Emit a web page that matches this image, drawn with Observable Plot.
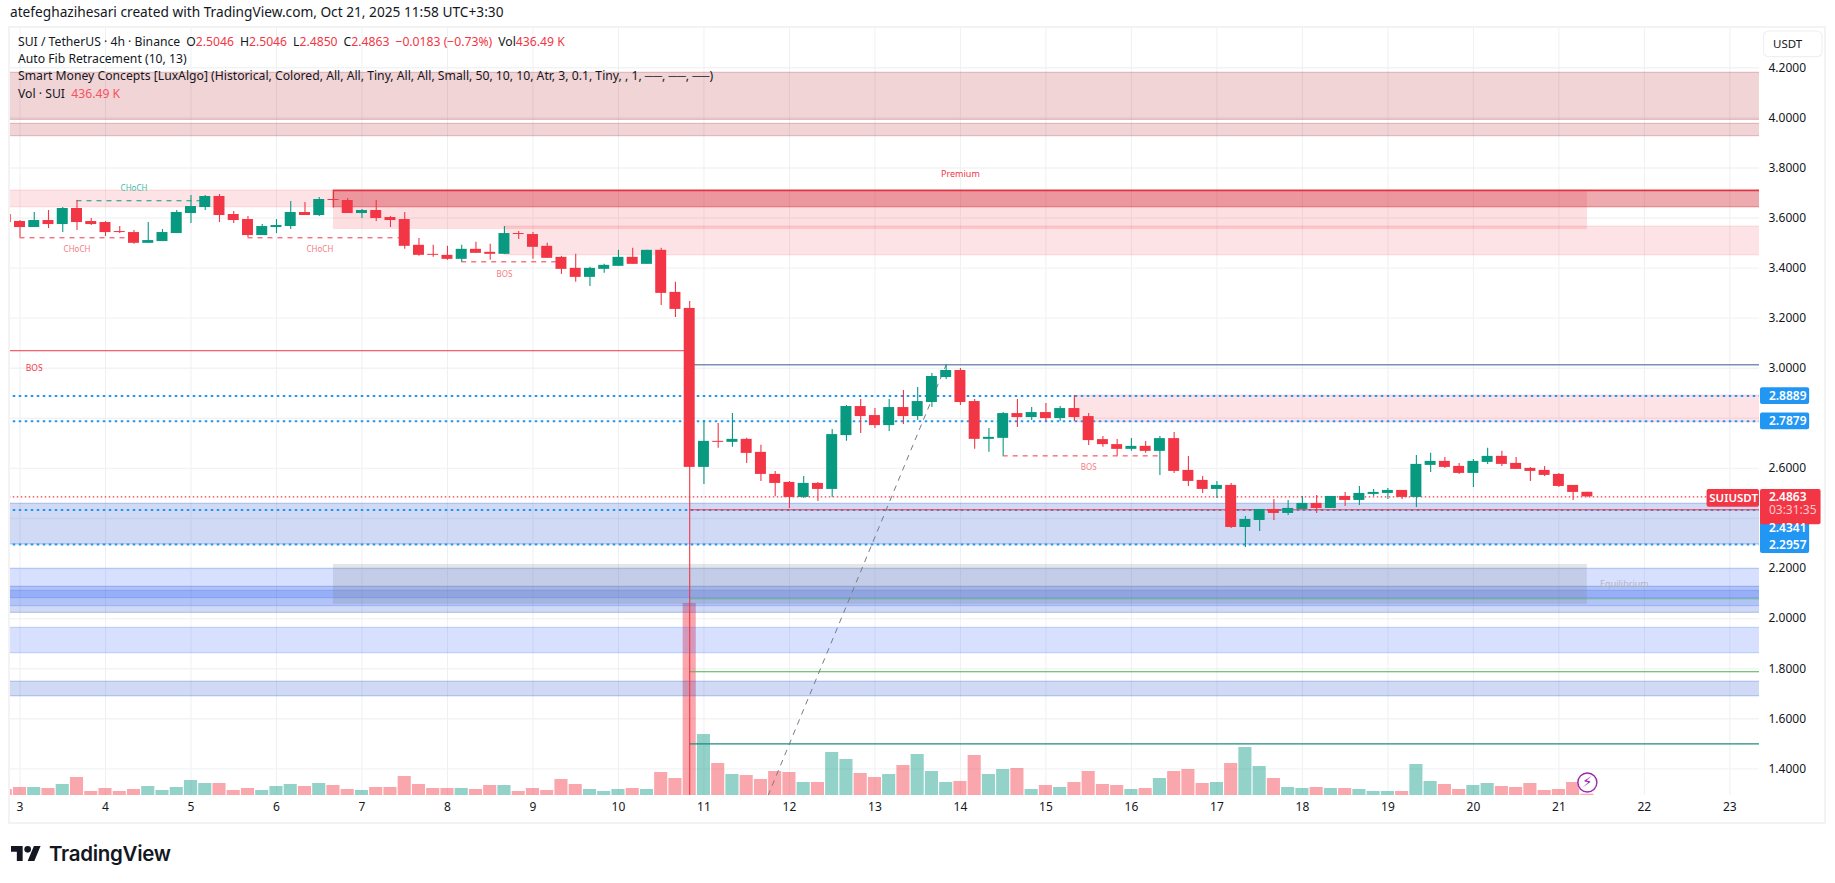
<!DOCTYPE html>
<html><head><meta charset="utf-8">
<script src="https://cdn.jsdelivr.net/npm/d3@7"></script>
<script src="https://cdn.jsdelivr.net/npm/@observablehq/plot@0.6"></script>
<style>
html,body{margin:0;padding:0;background:#fff}
#page{position:relative;width:1835px;height:883px;overflow:hidden;font-family:"Noto Sans",sans-serif;color:#131722}
#head{height:26px;line-height:23px;padding-left:10px;font-size:13.7px;box-sizing:border-box;white-space:nowrap}
#frame{position:absolute;left:8px;top:26px;width:1818px;height:798px;box-sizing:border-box;border:2px solid #F3F3F3}
#chart{position:relative}
#chart svg{display:block}
#legend{position:absolute;left:18px;top:33px;font-size:12.2px;line-height:17.2px;white-space:nowrap}
#legend .r{color:#F23645}
#legend .v{color:#F7525F}
#legend .g{margin-left:6px}
#foot{position:absolute;left:11px;top:841px;display:flex;align-items:center;gap:8px;font-family:Inter,sans-serif;font-weight:600;font-size:20.5px;letter-spacing:-.3px;color:#131722}
</style></head><body>
<div id="page">
<div id="head">atefeghazihesari created with TradingView.com, Oct 21, 2025 11:58 UTC+3:30</div>
<div id="frame"></div>
<div id="chart"></div>
<div id="legend">
<div>SUI / TetherUS · 4h · Binance<span class="g">O</span><span class="r">2.5046</span><span class="g">H</span><span class="r">2.5046</span><span class="g">L</span><span class="r">2.4850</span><span class="g">C</span><span class="r">2.4863</span><span class="g r">−0.0183 (−0.73%)</span><span class="g">Vol</span><span class="r">436.49 K</span></div>
<div>Auto Fib Retracement (10, 13)</div>
<div>Smart Money Concepts [LuxAlgo] (Historical, Colored, All, All, Tiny, All, All, Small, 50, 10, 10, Atr, 3, 0.1, Tiny, , 1, ──, ──, ──)</div>
<div>Vol · SUI &nbsp;<span class="v">436.49 K</span></div>
</div>
<div id="foot"><svg width="30" height="15" viewBox="0 4 36 18"><path fill="#131722" d="M14 22H7V11H0V4h14v18zM28 22h-8l7.5-18h8L28 22z"/><circle fill="#131722" cx="20" cy="8" r="4"/></svg><span>TradingView</span></div>
</div>
<script>
// bars are numbered from the first bar of Oct 3; one day = 6 bars of 4h
const firstBar = -1;
const open = [3.614,3.586,3.562,3.590,3.574,3.638,3.586,3.582,3.546,3.542,3.499,3.506,3.538,3.618,3.642,3.686,3.614,3.594,3.530,3.562,3.566,3.622,3.610,3.674,3.670,3.618,3.630,3.602,3.594,3.491,3.455,3.451,3.435,3.475,3.463,3.455,3.538,3.534,3.487,3.443,3.399,3.363,3.395,3.407,3.443,3.415,3.471,3.303,3.239,2.604,2.708,2.704,2.716,2.664,2.576,2.544,2.484,2.540,2.516,2.731,2.847,2.811,2.771,2.843,2.807,2.863,2.963,2.991,2.867,2.716,2.720,2.819,2.803,2.823,2.799,2.839,2.807,2.715,2.695,2.676,2.688,2.668,2.719,2.592,2.552,2.516,2.532,2.364,2.392,2.436,2.420,2.436,2.460,2.440,2.488,2.472,2.496,2.500,2.512,2.484,2.612,2.628,2.608,2.580,2.624,2.648,2.620,2.600,2.592,2.576,2.532,2.5046];
const high = [3.620,3.590,3.622,3.630,3.642,3.670,3.598,3.586,3.566,3.550,3.582,3.554,3.630,3.690,3.690,3.694,3.626,3.606,3.574,3.594,3.666,3.662,3.682,3.674,3.678,3.634,3.670,3.606,3.622,3.518,3.491,3.487,3.491,3.503,3.495,3.566,3.546,3.542,3.499,3.447,3.455,3.403,3.415,3.471,3.479,3.471,3.479,3.343,3.267,2.791,2.779,2.819,2.720,2.692,2.588,2.548,2.568,2.544,2.755,2.851,2.875,2.839,2.875,2.911,2.923,2.979,3.015,2.999,2.875,2.759,2.823,2.875,2.843,2.859,2.847,2.891,2.819,2.727,2.715,2.719,2.707,2.727,2.743,2.648,2.568,2.548,2.540,2.408,2.436,2.476,2.472,2.488,2.492,2.488,2.504,2.528,2.516,2.520,2.512,2.652,2.660,2.644,2.620,2.636,2.680,2.668,2.644,2.604,2.608,2.580,2.532,2.5046];
const low = [3.582,3.522,3.562,3.558,3.542,3.550,3.570,3.526,3.538,3.495,3.499,3.506,3.538,3.578,3.630,3.582,3.578,3.522,3.530,3.538,3.554,3.610,3.606,3.640,3.618,3.598,3.586,3.562,3.475,3.447,3.443,3.431,3.423,3.459,3.431,3.455,3.514,3.435,3.439,3.375,3.343,3.327,3.379,3.407,3.415,3.415,3.251,3.203,1.2935,2.536,2.680,2.684,2.620,2.548,2.487,2.440,2.480,2.468,2.484,2.708,2.739,2.759,2.747,2.775,2.791,2.843,2.955,2.851,2.676,2.664,2.650,2.763,2.791,2.787,2.787,2.787,2.691,2.684,2.650,2.668,2.660,2.572,2.580,2.528,2.500,2.480,2.360,2.284,2.348,2.392,2.412,2.436,2.420,2.440,2.448,2.452,2.488,2.476,2.476,2.444,2.584,2.600,2.576,2.524,2.616,2.608,2.596,2.548,2.568,2.524,2.472,2.4850];
const close = [3.582,3.562,3.590,3.574,3.638,3.582,3.574,3.542,3.542,3.499,3.510,3.542,3.622,3.646,3.686,3.610,3.590,3.530,3.566,3.570,3.622,3.610,3.674,3.670,3.618,3.630,3.598,3.590,3.487,3.451,3.451,3.435,3.475,3.459,3.455,3.538,3.534,3.483,3.439,3.395,3.363,3.399,3.411,3.443,3.415,3.471,3.299,3.235,2.604,2.708,2.704,2.716,2.660,2.576,2.540,2.484,2.540,2.516,2.735,2.847,2.807,2.771,2.843,2.807,2.867,2.967,2.991,2.863,2.716,2.724,2.819,2.803,2.823,2.799,2.839,2.803,2.711,2.695,2.676,2.688,2.668,2.719,2.588,2.548,2.516,2.532,2.364,2.396,2.436,2.420,2.440,2.460,2.440,2.488,2.472,2.500,2.504,2.512,2.484,2.616,2.628,2.604,2.580,2.628,2.648,2.616,2.596,2.588,2.572,2.528,2.504,2.4863];
const volumeM = [1.98,2.64,2.64,2.31,3.63,5.94,1.32,2.31,1.32,1.98,2.97,1.65,2.64,4.95,3.96,3.96,1.65,2.31,1.65,2.97,3.63,2.97,3.96,3.30,1.98,1.65,2.64,2.64,6.27,3.63,2.31,2.31,2.31,1.98,3.30,3.30,1.32,2.31,1.65,5.28,3.63,1.98,1.32,1.98,2.31,1.98,7.59,5.61,63.4,20.13,10.56,6.93,6.60,5.28,7.92,7.59,4.29,4.29,14.19,11.88,7.26,5.94,6.93,9.9,13.53,7.92,4.29,4.62,13.2,6.93,8.58,8.91,1.98,3.30,2.64,4.29,7.92,3.63,3.30,1.98,2.31,5.61,7.92,8.58,3.96,4.29,10.56,15.84,9.57,5.61,2.64,2.31,2.64,2.31,2.31,1.98,1.32,1.32,1.32,10.23,4.62,3.63,1.98,3.30,3.96,2.97,2.64,3.96,1.65,1.98,4.29,0.44];

const priceTicks = [4.2,4.0,3.8,3.6,3.4,3.2,3.0,2.8,2.6,2.4,2.2,2.0,1.8,1.6,1.4];
const axisPriceTicks = [4.2,4.0,3.8,3.6,3.4,3.2,3.0,2.6,2.2,2.0,1.8,1.6,1.4];
const dayLabels = [3,4,5,6,7,8,9,10,11,12,13,14,15,16,17,18,19,20,21,22,23];
const dayTicks = [0,6,12,18,24,30,36,42,48,54,60,66,72,78,84,90,96,102,108,114,120];

// zones, as [low, high] in price
const supplyZones = [[3.992,4.18],[3.927,3.976]];
const orderBlockFull = [[3.643,3.71]];
const orderBlockLate = [[3.451,3.566]];
const orderBlockRecent = [[2.7845,2.8911]];
const premiumZone = [[3.554,3.71]];
const strongZone = [[3.643,3.71]];
const strongTop = [3.71];
const lightBlueUpper = [[2.082,2.199]];
const indigoUpper = [[2.023,2.127]];
const lightBlueInner = [[2.050,2.111]];
const lightBlueLower = [[1.862,1.963]];
const indigoLower = [[1.690,1.748]];
const indigoNear = [[2.296,2.4586]];
const equilibriumZone = [[2.0565,2.2165]];

const fibLevels = [2.8889,2.7879,2.4341,2.2957];
const lastPrice = 2.4863;
const swingHigh = 3.014, swingLevelRed = 2.4346, bosHigh = 3.070;
const greenLevelUpper = 2.0793, greenLevelLower = 1.7878;
const tealLevel = 1.5;
const dashedRed = [[0,8,3.521],[16,27,3.521],[31,38,3.425],[69,80,2.650]];
const dashedGreen = [[4,13,3.669]];
const fibTrend = [[52.5,1.2935],[65,3.014]];
const redTags = [["CHoCH",4,3.4755],["CHoCH",21.05,3.4755],["BOS",34,3.376],["BOS",75,2.605]];
const bosLeftTag = [["BOS",1,3.0]];
const greenTags = [["CHoCH",8,3.719]];

const bars = open.map((o,k)=>({i:k+firstBar,open:o,high:high[k],low:low[k],close:close[k],vol:volumeM[k]}));
const up = bars.filter(d=>d.close>=d.open), down = bars.filter(d=>d.close<d.open);

const GREEN="#089981", RED="#F23645", BLUE="#2196F3";
const L=-3, R=124;
const volBase=1.2935, pricePerM=0.0121;

function band(data,x1,x2,fill,fo,so,extra={}){
  return Plot.rect(data,{x1:()=>x1,x2:()=>x2,y1:d=>d[0],y2:d=>d[1],fill,fillOpacity:fo,stroke:fill,strokeOpacity:so,strokeWidth:1.2,clip:true,...extra});
}
function hline(ys,x1,x2,stroke,extra={}){
  return Plot.ruleY(ys,{x1:()=>x1,x2:()=>x2,y:d=>d,stroke,clip:true,...extra});
}
function candles(data,color){
  return [
    Plot.ruleX(data,{x:"i",y1:"low",y2:"high",stroke:color,strokeWidth:1.1,clip:true}),
    Plot.rect(data,{x1:d=>d.i-.385,x2:d=>d.i+.385,y1:d=>Math.min(d.open,d.close),y2:d=>Math.max(d.open,d.close),fill:color,clip:true})
  ];
}
function volumes(data,color){
  return Plot.rect(data,{x1:d=>d.i-.46,x2:d=>d.i+.46,y1:()=>volBase,y2:d=>volBase+d.vol*pricePerM,fill:color,fillOpacity:.44,clip:true});
}
const tag=(x1,x2,y1,y2,fill,extra={})=>Plot.rect([0],{x1:()=>x1,x2:()=>x2,y1:()=>y1,y2:()=>y2,fill,...extra});
const label=(text,x,y,opts)=>Plot.text([text],{x:()=>x,y:()=>y,text:d=>d,lineAnchor:"middle",...opts});

const plot = Plot.plot({
  width:1835,height:800,
  marginLeft:10,marginRight:76,marginTop:2,marginBottom:31,
  style:{background:"transparent",fontFamily:"'Noto Sans',sans-serif",overflow:"visible"},
  x:{type:"linear",domain:[-0.667,122.08]},
  y:{type:"linear",domain:[1.2935,4.357]},
  marks:[
    Plot.ruleY(priceTicks,{stroke:"#F2F3F5",strokeWidth:1.4,clip:true}),
    Plot.ruleX(dayTicks,{stroke:"#EEF0F3",strokeWidth:1,clip:true}),
    volumes(up,GREEN),volumes(down,RED),
    band(supplyZones,L,R,"#B22833",.2,.25),
    band(orderBlockFull,L,R,RED,.14,.12),
    band(orderBlockLate,34,R,RED,.14,.12),
    band(orderBlockRecent,74,R,RED,.14,.12),
    Plot.rect(premiumZone,{x1:()=>22,x2:()=>110,y1:d=>d[0],y2:d=>d[1],fill:RED,fillOpacity:.16}),
    band(strongZone,22,R,"#C8202E",.29,.3),
    hline(strongTop,22,R,"#E0323F",{strokeWidth:1.4}),
    Plot.ruleX([22],{y1:()=>strongZone[0][0],y2:()=>strongZone[0][1],stroke:"#E0323F",strokeWidth:1.2}),
    band(indigoNear,L,R,"#1848CC",.2,.25),
    band(lightBlueUpper,L,R,"#2962FF",.19,.22),
    band(indigoUpper,L,R,"#1848CC",.2,.25),
    band(lightBlueInner,L,R,"#2962FF",.19,.22),
    band(lightBlueLower,L,R,"#2962FF",.19,.22),
    band(indigoLower,L,R,"#1848CC",.2,.25),
    Plot.rect(equilibriumZone,{x1:()=>22,x2:()=>110,y1:d=>d[0],y2:d=>d[1],fill:"#787B86",fillOpacity:.2}),
    hline([lastPrice],L,R,RED,{strokeDasharray:"1.5 2.5",strokeWidth:1.2}),
    hline(fibLevels,L,R,BLUE,{strokeDasharray:"2.5 3.5",strokeWidth:2}),
    hline([bosHigh],L,47,RED,{strokeWidth:1}),
    hline([swingHigh],47,R,"#7F8DB8",{strokeWidth:1.4}),
    hline([swingLevelRed],47,R,RED,{strokeWidth:1}),
    hline([greenLevelUpper],47,R,"#4CAF50",{strokeWidth:1.1,strokeOpacity:.65}),
    hline([greenLevelLower],47,R,"#4CAF50",{strokeWidth:1.2}),
    hline([tealLevel],47,R,"#1E8C7A",{strokeWidth:1.2}),
    Plot.line(fibTrend,{x:d=>d[0],y:d=>d[1],stroke:"#787B86",strokeWidth:1,strokeDasharray:"5 6",clip:true}),
    Plot.ruleY(dashedRed,{x1:d=>d[0],x2:d=>d[1],y:d=>d[2],stroke:RED,strokeWidth:1,strokeDasharray:"5 5",clip:true}),
    Plot.ruleY(dashedGreen,{x1:d=>d[0],x2:d=>d[1],y:d=>d[2],stroke:GREEN,strokeWidth:1,strokeDasharray:"5 5",clip:true}),
    ...candles(up,GREEN),...candles(down,RED),
    Plot.text(redTags,{x:d=>d[1],y:d=>d[2],text:d=>d[0],fill:"#F77C80",fontSize:8,lineAnchor:"middle"}),
    Plot.text(bosLeftTag,{x:d=>d[1],y:d=>d[2],text:d=>d[0],fill:RED,fontSize:8.5,lineAnchor:"middle"}),
    Plot.text(greenTags,{x:d=>d[1],y:d=>d[2],text:d=>d[0],fill:"#42BDA8",fontSize:8,lineAnchor:"middle"}),
    label("Premium",66,3.774,{fill:RED,fontSize:9}),
    label("Equilibrium",112.6,2.136,{fill:"#B2B5BE",fontSize:9}),
    Plot.dot([110],{x:d=>d,y:()=>1.3455,r:9.5,stroke:"#9C27B0",strokeWidth:1.4,fill:"#FFFFFF",fillOpacity:.75}),
    label("⚡",110,1.3455,{fill:"#9C27B0",fontSize:15,fontFamily:"DejaVu Sans"}),
    Plot.axisY({anchor:"right",ticks:axisPriceTicks,tickFormat:d3.format(".4f"),tickSize:0,tickPadding:9,fontSize:12,label:null,fill:"#131722"}),
    Plot.axisX({ticks:dayTicks,tickFormat:i=>dayLabels[dayTicks.indexOf(i)],tickSize:0,tickPadding:7,fontSize:12,label:null,fill:"#131722"}),
    // right-hand price tags
    tag(122.15,125.6,2.8555,2.9223,BLUE,{rx:2}),
    tag(122.15,125.6,2.7543,2.8211,BLUE,{rx:2}),
    tag(122.15,125.6,2.2600,2.4100,BLUE,{rx:2}),
    tag(118.4,122.08,2.4450,2.5155,RED,{rx:2}),
    tag(122.15,126.4,2.3750,2.5155,RED,{rx:2}),
    label("2.8889",122.74,2.8889,{fill:"#fff",fontSize:12,textAnchor:"start",fontWeight:600}),
    label("2.7879",122.74,2.7879,{fill:"#fff",fontSize:12,textAnchor:"start",fontWeight:600}),
    label("2.4341",122.74,2.361,{fill:"#fff",fontSize:12,textAnchor:"start",fontWeight:600}),
    label("2.2957",122.74,2.295,{fill:"#fff",fontSize:12,textAnchor:"start",fontWeight:600}),
    label("SUIUSDT",120.26,2.4800,{fill:"#fff",fontSize:11.5,fontWeight:600}),
    label("2.4863",122.74,2.4860,{fill:"#fff",fontSize:12,textAnchor:"start",fontWeight:600}),
    label("03:31:35",122.74,2.4320,{fill:"#FFC9CD",fontSize:12,textAnchor:"start"}),
    tag(122.4,126.5,4.2423,4.345,"#fff",{stroke:"#EFF0F2",strokeWidth:1.2,rx:5}),
    label("USDT",124.05,4.293,{fill:"#131722",fontSize:11.5})
  ]
});
document.getElementById("chart").append(plot);
</script>
</body></html>
